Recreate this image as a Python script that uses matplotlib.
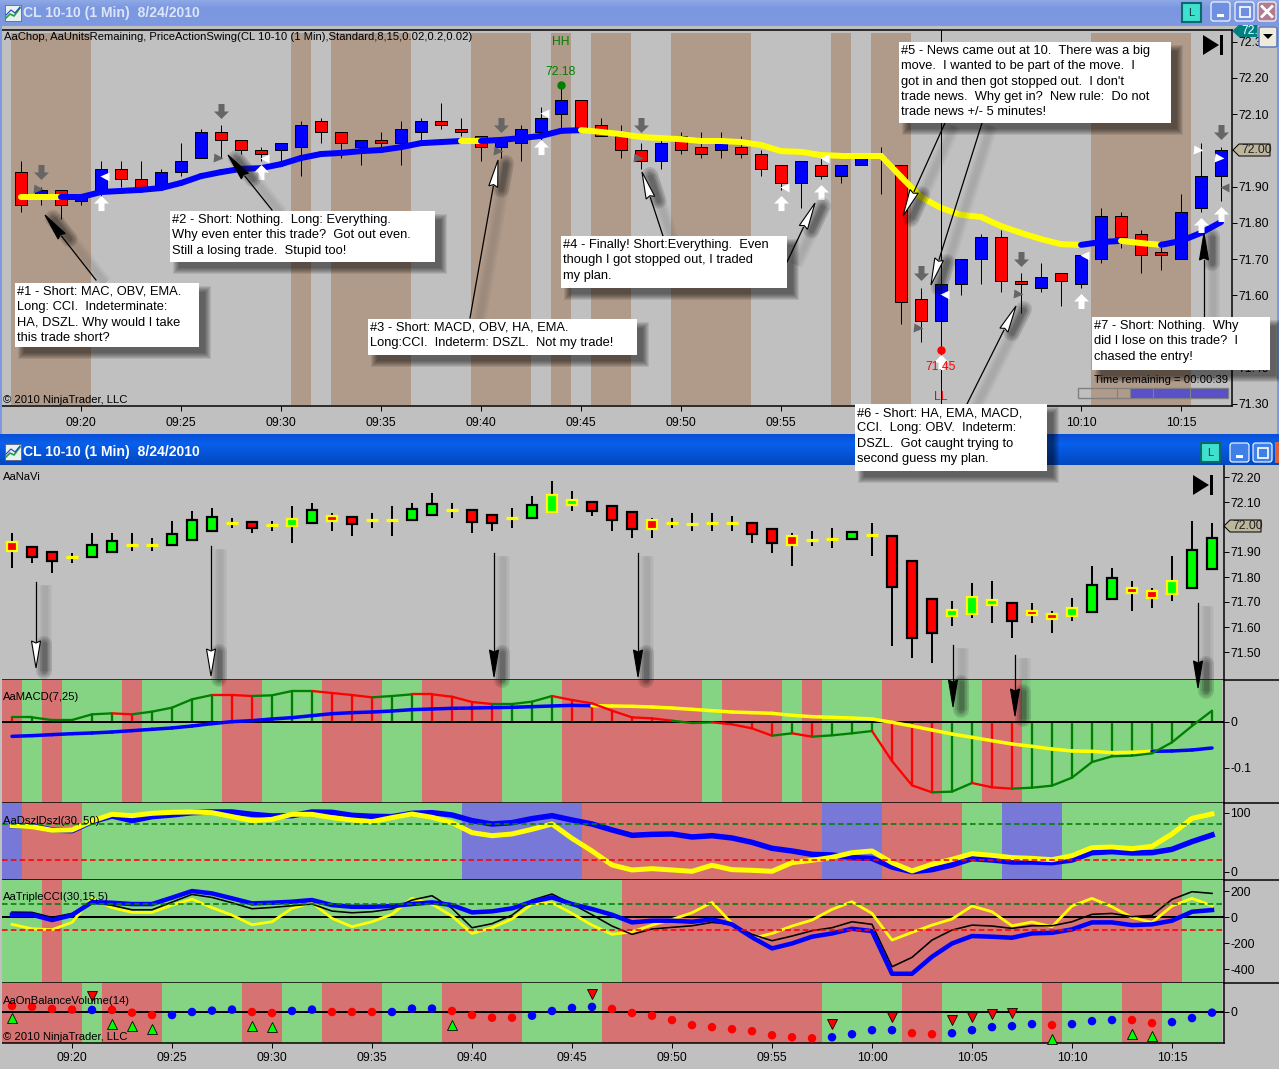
import numpy as np
import matplotlib
matplotlib.use("Agg")
import matplotlib.pyplot as plt
from matplotlib.patches import Rectangle, Polygon, FancyBboxPatch
from matplotlib.path import Path

plt.rcParams['font.family'] = ['Liberation Sans', 'DejaVu Sans']
W, H = 1279, 1069

# ---------------- data (minutes after 09:20) ----------------
minutes = list(range(-3, 58))
tick_minutes = list(range(0, 56, 5))
tick_labels = ['09:20','09:25','09:30','09:35','09:40','09:45','09:50','09:55','10:00','10:05','10:10','10:15']
top_tick_labels = ['09:20','09:25','09:30','09:35','09:40','09:45','09:50','09:55','','','10:10','10:15']

top_open = [71.94,71.87,71.89,71.86,71.89,71.95,71.92,71.90,71.94,71.98,72.05,72.03,72.00,72.00,72.01,72.08,72.05,72.01,72.03,72.02,72.05,72.08,72.06,72.04,72.01,72.02,72.05,72.10,72.14,72.07,72.04,72.00,71.97,72.04,72.01,72.00,72.01,71.99,71.96,71.91,71.96,71.93,71.96,71.98,71.96,71.59,71.53,71.63,71.70,71.76,71.64,71.62,71.66,71.63,71.70,71.82,71.77,71.72,71.70,71.84,71.93]
top_close = [71.85,71.89,71.85,71.87,71.95,71.92,71.90,71.94,71.97,72.05,72.03,72.00,71.99,72.02,72.07,72.05,72.02,72.03,72.02,72.06,72.08,72.07,72.05,72.01,72.03,72.06,72.09,72.14,72.06,72.04,72.00,71.97,72.02,72.00,71.99,72.03,71.99,71.95,71.91,71.97,71.93,71.96,71.98,71.98,71.58,71.53,71.63,71.70,71.76,71.64,71.63,71.65,71.64,71.71,71.82,71.76,71.71,71.71,71.83,71.93,72.00]
top_high = [71.97,71.90,71.89,71.88,71.97,71.97,71.97,71.95,72.02,72.06,72.07,72.03,72.01,72.02,72.08,72.09,72.05,72.03,72.05,72.08,72.09,72.13,72.09,72.04,72.03,72.07,72.12,72.18,72.14,72.09,72.07,72.02,72.03,72.05,72.05,72.05,72.04,72.00,71.96,71.97,71.98,71.96,71.98,72.01,71.96,71.62,71.63,71.70,71.77,71.78,71.66,71.69,71.66,71.71,71.84,71.83,71.78,71.75,71.88,72.02,72.01]
top_low = [71.83,71.85,71.81,71.85,71.87,71.90,71.90,71.90,71.93,71.98,71.98,71.99,71.97,71.97,71.93,72.02,71.98,71.96,72.00,71.96,72.02,72.06,72.04,71.97,71.98,71.97,72.03,72.06,72.06,72.04,71.98,71.95,71.95,71.99,71.98,71.98,71.98,71.93,71.89,71.84,71.92,71.91,71.96,71.88,71.52,71.47,71.45,71.60,71.63,71.61,71.55,71.61,71.57,71.62,71.69,71.73,71.66,71.67,71.70,71.83,71.86]
swing_ma = [71.871,71.871,71.871,71.871,71.885,71.888,71.891,71.896,71.910,71.929,71.940,71.949,71.951,71.962,71.979,71.990,71.993,71.998,72.001,72.009,72.020,72.023,72.026,72.026,72.029,72.034,72.040,72.054,72.056,72.051,72.045,72.037,72.034,72.031,72.026,72.026,72.023,72.015,71.998,71.996,71.987,71.985,71.985,71.985,71.927,71.871,71.841,71.822,71.816,71.791,71.772,71.755,71.741,71.739,71.747,71.750,71.744,71.739,71.750,71.772,71.802]
swing_ma_color = ['Y']*3 + ['B']*20 + ['Y'] + ['B']*5 + ['Y']*25 + ['B']*2 + ['Y']*2 + ['B']*3
chop_minutes = [-3,-2,-1,0,11,13,14,15,16,20,21,22,24,26,27,30,31,32,33,38,40,41,51,52,53,54,55]

down_t = [-2,7,21,28,42,47,57];  down_p = [71.94,72.11,72.07,72.07,71.66,71.70,72.05]
up_t = [1,9,23,35,37,43,50,56,57];  up_p = [71.855,71.94,72.01,71.855,71.885,71.415,71.585,71.795,71.825]
gtri_t = [-2,7,21,28,42,47];  gtri_p = [71.893,71.98,71.998,71.98,71.51,71.603]
wtri_t = [1,9,23,35,37,43,50];  wtri_p = [71.93,71.98,72.103,71.90,71.98,71.603,71.711]

nav_top = [71.939,71.921,71.901,71.880,71.929,71.943,71.927,71.927,71.971,72.027,72.039,72.015,72.019,72.007,72.031,72.067,72.043,72.039,72.027,72.028,72.071,72.091,72.067,72.067,72.047,72.037,72.087,72.127,72.108,72.099,72.083,72.059,72.027,72.015,72.012,72.016,72.015,72.017,71.993,71.965,71.949,71.951,71.979,71.967,71.965,71.865,71.713,71.667,71.721,71.707,71.697,71.663,71.653,71.675,71.769,71.795,71.755,71.745,71.785,71.909,71.957]
nav_bot = [71.904,71.879,71.864,71.880,71.879,71.901,71.927,71.927,71.927,71.947,71.983,72.015,71.995,72.007,72.005,72.015,72.025,72.011,72.027,72.028,72.027,72.047,72.067,72.019,72.015,72.037,72.035,72.059,72.089,72.063,72.027,71.991,71.993,72.015,72.012,72.016,72.015,71.971,71.935,71.927,71.949,71.951,71.951,71.967,71.760,71.555,71.575,71.643,71.651,71.687,71.623,71.647,71.633,71.643,71.659,71.711,71.735,71.715,71.731,71.755,71.831]
nav_high = [71.975,71.921,71.901,71.895,71.975,71.975,71.975,71.955,72.024,72.064,72.076,72.035,72.019,72.024,72.084,72.095,72.055,72.039,72.055,72.084,72.095,72.135,72.095,72.067,72.047,72.075,72.123,72.183,72.144,72.099,72.083,72.059,72.035,72.035,72.055,72.055,72.044,72.017,71.993,71.975,71.984,71.996,71.984,72.016,71.965,71.865,71.713,71.704,71.776,71.784,71.697,71.697,71.664,71.717,71.844,71.836,71.784,71.756,71.884,72.024,72.015]
nav_low = [71.837,71.857,71.817,71.857,71.879,71.901,71.905,71.905,71.927,71.947,71.983,71.997,71.977,71.985,71.937,72.015,71.985,71.965,71.997,71.965,72.027,72.047,72.037,71.977,71.985,71.997,72.035,72.059,72.065,72.044,71.985,71.957,71.957,71.997,71.985,71.985,71.985,71.937,71.897,71.845,71.924,71.917,71.951,71.885,71.525,71.476,71.457,71.605,71.637,71.617,71.557,71.617,71.577,71.625,71.659,71.711,71.664,71.677,71.705,71.755,71.831]
nav_style = ['YR','KR','KR','Y','KG','KG','Y','Y','KG','KG','KG','Y','KR','Y','YG','KG','YR','KR','Y','Y','KG','KG','Y','KR','KR','Y','KG','YG','YG','KR','KR','KR','YR','Y','Y','Y','Y','KR','KR','YR','Y','Y','KG','Y','KR','KR','KR','YG','YG','YG','KR','YR','YR','YG','KG','KG','YR','YR','YG','KG','KG']

macd_bg = ['R','G','R','G','G','G','R','G','G','G','G','R','R','G','G','G','R','R','R','G','G','R','R','R','R','G','G','G'] + ['R']*7 + ['G','R','R','R','G','R','G','G','G','R','R','R','G','G','R','R'] + ['G']*10
macd_diff = [.0101,.0101,.0043,.0043,.0167,.0188,.0167,.0225,.0312,.0493,.0587,.0587,.0565,.058,.0674,.0674,.063,.0587,.0536,.0565,.0601,.0601,.055,.0435,.0391,.0391,.0442,.0565,.0478,.0406,.0246,.0101,.008,.0029,-.0022,-.0007,-.0051,-.0138,-.0297,-.0246,-.0319,-.029,-.0246,-.0196,-.0848,-.1377,-.1529,-.1514,-.1326,-.142,-.1449,-.1428,-.1384,-.121,-.087,-.0746,-.0732,-.0681,-.0442,-.0087,.0246]
macd_col = ['R','G','G','G','G','G','R','G','G','G','G','R','R','G','G','G','R','R','R','G','G','R','R','R','R','G','G','G','R','R','R','R','R','R','G','G','R','R','R','G','R','G','G','G','R','R','R','G','G','R','R','G','G','G','G','G','G','G','G','G','G']
macd_sig = [-.0312,-.0297,-.0275,-.0254,-.0239,-.0217,-.0188,-.0159,-.013,-.0087,-.0036,.0007,.0029,.0065,.0094,.0138,.0181,.0203,.0217,.0239,.0268,.0283,.0297,.0304,.0312,.0319,.0333,.0348,.0362,.0355,.0348,.0341,.0326,.0304,.0275,.0246,.0217,.0203,.0188,.0145,.0116,.0101,.0087,.0065,-.0007,-.0087,-.0174,-.0261,-.0333,-.0406,-.0478,-.0529,-.0587,-.063,-.0638,-.0667,-.0659,-.0638,-.063,-.0609,-.0565]
macd_sig_col = ['B']*30 + ['Y']*28 + ['B']*3

dsz_bg = ['L'] + ['R']*3 + ['G']*19 + ['L']*6 + ['R']*12 + ['L']*3 + ['R']*4 + ['G']*2 + ['L']*3 + ['G']*8
dsz_blue = [77.7,77.1,70.4,69.2,84.5,94.1,86.2,93,95.8,99.7,100.9,100.9,96.9,94.1,94.6,100.9,100.3,95.2,93.5,93,98.6,99.7,95.8,86.2,80.5,82.8,89.6,94.6,87.3,80.5,70.4,61.3,63,63.6,58.5,60.7,56.8,49.4,39.3,34.8,29.1,28,23.5,22.3,7.6,-.3,3.1,11,21.8,19.5,16.1,16.1,15,19.5,31.9,33.6,31.4,31.9,37.6,50.6,61.9]
dsz_yellow = [77.7,76,69.8,70.4,85.6,96.9,94.6,98.6,100.3,100.9,99.7,93,86.2,88.4,96.9,96.9,91.3,87.3,84.5,91.3,97.5,91.8,82.8,65.8,60.7,63.6,71.5,80.5,56.2,34.8,11,2.6,4.8,2.6,.3,10.5,3.1,2,.3,15,18.9,24,31.9,34.8,15,.9,12.2,20.6,30.2,27.4,23.5,22.3,20,26.8,40.4,41.5,38.7,42.7,63.6,90.1,97.5]

cci_bg = ['G','G','R'] + ['G']*28 + ['R']*28 + ['G']*2
cci_blue = [18,18,-23,15,115,110,100,100,149,200,182,144,105,110,118,131,92,79,79,85,100,113,92,36,44,67,118,151,100,62,18,-41,-28,-28,-36,-18,-56,-156,-241,-203,-151,-126,-90,-108,-436,-436,-305,-203,-146,-151,-159,-126,-121,-95,-41,-41,-62,-56,-28,41,54]
cci_black = [38,36,-3,28,110,90,56,56,115,174,151,110,64,74,87,100,46,33,41,62,131,164,67,-82,-51,15,131,177,100,18,-69,-133,-92,-79,-67,-41,-56,-133,-182,-146,-105,-82,-36,-56,-382,-310,-177,-100,-62,-69,-87,-67,-67,-36,21,28,3,13,136,195,182]
cci_yellow = [-56,-90,-97,-41,144,72,36,36,92,138,72,15,-59,-36,67,110,-10,-74,-36,21,144,100,8,-126,-82,-15,100,110,28,-62,-133,-113,-62,-18,33,113,-49,-164,-126,-69,-23,59,118,28,-177,-118,-62,-15,85,41,-67,-38,-74,85,144,79,-3,-41,85,144,87]

obv_bg = ['R']*4 + ['G'] + ['R']*3 + ['G']*4 + ['R']*2 + ['G']*2 + ['R']*3 + ['G']*3 + ['R']*4 + ['G']*4 + ['R']*11 + ['G']*4 + ['R']*2 + ['G']*5 + ['R'] + ['G']*3 + ['R']*2 + ['G']*3
obv = [18,15,9,7,6,6,-2,-9,-9,0,4,7,0,-3,3,7,0,0,0,0,10,10,3,-9,-17,-17,-11,3,12,15,9,-3,-11,-24,-39,-45,-51,-57,-69,-75,-78,-75,-66,-54,-54,-63,-66,-63,-54,-45,-42,-36,-39,-36,-27,-24,-24,-33,-30,-18,-2]
obv_col = list('RRRRBRRRBBBBRRBBRRRBBBRRRRBBBBRR') + ['R']*9 + ['B']*4 + ['R']*2 + ['B']*5 + ['R'] + ['B']*3 + ['R']*2 + ['B']*3
obv_up_t = [-3,2,3,4,9,10,19,49,53,54];  obv_up_v = [-19,-35,-41,-49,-41,-44,-38,-81,-65,-71]
obv_dn_t = [1,26,38,41,44,45,46,47];  obv_dn_v = [46,54,-36,-15,-24,-15,-6,-3]

# ---------------- colours & helpers ----------------
GRAY = '#C0C0C0'; BROWN = '#B09A8A'
BGC = {'G': '#84D484', 'R': '#D67272', 'L': '#7878D8'}
LINEC = {'Y': '#FFFF00', 'B': '#0000FF', 'G': '#008000', 'R': '#FF0000'}
px = 0.72  # points per pixel at dpi 100
FS = 8.7
fig = plt.figure(figsize=(W/100, H/100), dpi=100, facecolor=GRAY)

def make_ax(l, t, r, b):
    ax = fig.add_axes([l/W, 1-b/H, (r-l)/W, (b-t)/H], facecolor=GRAY)
    for s in ('top', 'left'):
        ax.spines[s].set_visible(False)
    for s in ax.spines.values():
        s.set_linewidth(1.5*px)
    ax.yaxis.tick_right()
    ax.tick_params(axis='y', length=5*px, width=1*px, pad=1, labelsize=FS)
    ax.tick_params(axis='x', length=5*px, width=1*px, pad=4, labelsize=FS)
    return ax

def bands(ax, cols, ts):
    for t, c in zip(ts, cols):
        ax.axvspan(t-.5, t+.5, facecolor=BGC[c], lw=0, antialiased=False, zorder=0)

def colored_line(ax, xs, ys, cols, lw, z=3):
    for i in range(1, len(xs)):
        ax.plot(xs[i-1:i+1], ys[i-1:i+1], color=LINEC[cols[i]], lw=lw, zorder=z, solid_capstyle='round')

m = np.array(minutes)
# ---------------- top chart ----------------
a0 = 81
ax1 = make_ax(2, 30, 1232, 406)
ax1.set_xlim((2-a0)/20, (1232-a0)/20)
ax1.set_ylim(72.2-(406-78)/362, 72.2+(78-30)/362)
ax1.spines['top'].set_visible(True)
for t in chop_minutes:
    ax1.axvspan(t-.5, t+.5, ymin=0.003, ymax=0.992, facecolor=BROWN, lw=0, antialiased=False, zorder=0)
to, tc, th, tl = map(np.array, (top_open, top_close, top_high, top_low))
ax1.vlines(m, tl, th, color='k', lw=1*px, zorder=2)
tcols = ['#0000FF' if c > o else '#FF0000' for o, c in zip(to, tc)]
ax1.bar(m, np.abs(tc-to), bottom=np.minimum(to, tc), width=.58, color=tcols, edgecolor='k', lw=1*px, zorder=3)
colored_line(ax1, minutes, swing_ma, swing_ma_color, 6*px, 4)
ax1.axvline(43, color='k', lw=1*px, zorder=5)

arrow_up = Path([(-.2,-.5),(.2,-.5),(.2,0),(.5,0),(0,.5),(-.5,0),(-.2,0),(-.2,-.5)], closed=True)
arrow_dn = Path([(-.2,.5),(.2,.5),(.2,0),(.5,0),(0,-.5),(-.5,0),(-.2,0),(-.2,.5)], closed=True)
ax1.plot(down_t, down_p, ls='', marker=arrow_dn, ms=15*px, mfc='#666666', mec='none', zorder=6)
ax1.plot(up_t, up_p, ls='', marker=arrow_up, ms=15*px, mfc='white', mec='none', zorder=6)
ax1.plot(np.array(gtri_t)-.15, gtri_p, ls='', marker='>', ms=9*px, mfc='#666666', mec='none', zorder=6)
ax1.plot(np.array(wtri_t)+.17, wtri_p, ls='', marker='<', ms=9*px, mfc='white', mec='none', zorder=6)
ax1.plot([56-.15, 57-.1], [72.00, 71.98], ls='', marker='>', ms=9*px, mfc='white', mec='none', zorder=6)
ax1.plot([57.15], [71.90], ls='', marker='<', ms=9*px, mfc='#666666', mec='none', zorder=6)
ax1.plot([24], [72.18], 'o', ms=7*px, color='#008000', zorder=6)
ax1.plot([43], [71.45], 'o', ms=7*px, color='#FF0000', zorder=6)
ax1.annotate('72.18', (24, 72.18), xytext=(0, 13*px), textcoords='offset points', ha='center', va='center', color='#008000', fontsize=FS)
ax1.annotate('HH', (24, 72.18), xytext=(0, 43*px), textcoords='offset points', ha='center', va='center', color='#008000', fontsize=FS)
ax1.annotate('71.45', (43, 71.45), xytext=(0, -17*px), textcoords='offset points', ha='center', va='center', color='#FF0000', fontsize=FS, zorder=7)
ax1.annotate('LL', (43, 71.45), xytext=(0, -47*px), textcoords='offset points', ha='center', va='center', color='#FF0000', fontsize=FS, zorder=7)
ax1.set_xticks(tick_minutes, top_tick_labels)
yt = [72.30, 72.20, 72.10, 72.00, 71.90, 71.80, 71.70, 71.60, 71.50, 71.40, 71.30]
ax1.set_yticks(yt, [f'{v:.2f}' for v in yt])

# ---------------- bottom chart ----------------
b0 = 72
xl = ((2-b0)/20, (1224-b0)/20)
ax2 = make_ax(2, 465, 1224, 680)
ax2.set_xlim(*xl)
ax2.set_ylim(72.2-203/250, 72.2+12/250)
nt, nb, nh, nl = map(np.array, (nav_top, nav_bot, nav_high, nav_low))
ax2.vlines(m, nl, nh, color='k', lw=2*px, zorder=2)
for t, a, b, s in zip(minutes, nt, nb, nav_style):
    if s == 'Y':
        ax2.plot([t-.32, t+.32], [a, a], color='#FFFF00', lw=3.2*px, solid_capstyle='butt', zorder=3)
    else:
        ax2.bar(t, a-b, bottom=b, width=.52, color='#00FF00' if s[1] == 'G' else '#FF0000',
                edgecolor='k' if s[0] == 'K' else '#FFFF00', lw=2.2*px, zorder=3)
yt = [72.2, 72.1, 72.0, 71.9, 71.8, 71.7, 71.6, 71.5]
ax2.set_yticks(yt, [f'{v:.2f}' for v in yt])
ax2.set_xticks([])

# MACD
ax3 = make_ax(2, 680, 1224, 803)
ax3.set_xlim(*xl); ax3.set_ylim(-(803-722)/460, 42/460)
bands(ax3, macd_bg, minutes)
ax3.vlines(m, 0, macd_diff, colors=[LINEC[c] for c in macd_col], lw=2.3*px, zorder=2)
colored_line(ax3, minutes, macd_diff, macd_col, 2.3*px, 3)
ax3.axhline(0, color='k', lw=2*px, zorder=2.5)
colored_line(ax3, minutes, macd_sig, macd_sig_col, 3.5*px, 2.8)
ax3.set_yticks([0, -.1], ['0', '-0.1']); ax3.set_xticks([])

# DSZ
ax4 = make_ax(2, 803, 1224, 880)
ax4.set_xlim(*xl); ax4.set_ylim((871.5-880)/.59, (871.5-803)/.59)
bands(ax4, dsz_bg, minutes)
ax4.axhline(80, color='#008000', lw=1.6*px, ls=(0, (3.5, 2)), zorder=5)
ax4.axhline(20, color='#FF0000', lw=1.6*px, ls=(0, (3.5, 2)), zorder=5)
ax4.plot(minutes, dsz_blue, color='#0000FF', lw=5.5*px, zorder=3)
ax4.plot(minutes, dsz_yellow, color='#FFFF00', lw=5*px, zorder=4)
ax4.set_yticks([100, 0]); ax4.set_xticks([])

# CCI
ax5 = make_ax(2, 880, 1224, 983)
ax5.set_xlim(*xl); ax5.set_ylim(-507, 285)
bands(ax5, cci_bg, minutes)
ax5.axhline(0, color='k', lw=2*px, zorder=1)
ax5.axhline(100, color='#008000', lw=1.6*px, ls=(0, (3.5, 2)), zorder=5)
ax5.axhline(-100, color='#FF0000', lw=1.6*px, ls=(0, (3.5, 2)), zorder=5)
ax5.plot(minutes, cci_yellow, color='#FFFF00', lw=2.8*px, zorder=2)
ax5.plot(minutes, cci_black, color='k', lw=1.6*px, zorder=3)
ax5.plot(minutes, cci_blue, color='#0000FF', lw=4.5*px, zorder=4)
ax5.set_yticks([200, 0, -200, -400], ['200', '0', '-200', '-400']); ax5.set_xticks([])

# OBV
ax6 = make_ax(2, 983, 1224, 1043)
ax6.set_xlim(*xl); ax6.set_ylim(-92, 86)
bands(ax6, obv_bg, minutes)
ax6.axhline(0, color='k', lw=2*px, zorder=1)
ax6.scatter(minutes, obv, c=[LINEC[c] for c in obv_col], s=(8.5*px)**2, marker='o', lw=0, zorder=3)
ax6.plot(obv_up_t, obv_up_v, ls='', marker='^', ms=10*px, mfc='#00FF00', mec='k', mew=.8*px, zorder=4, clip_on=False)
ax6.plot(obv_dn_t, obv_dn_v, ls='', marker='v', ms=10*px, mfc='#FF0000', mec='k', mew=.8*px, zorder=4)
ax6.set_yticks([0]); ax6.set_xticks(tick_minutes, tick_labels)
ax6.tick_params(axis='x', pad=3)

# ---------------- overlay in screen pixels: window chrome, notes ----------------
ov = fig.add_axes([0, 0, 1, 1], zorder=20)
ov.patch.set_alpha(0); ov.axis('off')
def title_bar(y0, y1, c0, c1, c2):
    n = y1-y0
    g = np.zeros((n, 1, 3))
    c0, c1, c2 = [np.array(matplotlib.colors.to_rgb(c)) for c in (c0, c1, c2)]
    for i in range(n):
        f = i/(n-1)
        g[i, 0] = c0+(c1-c0)*f/.3 if f < .3 else c1+(c2-c1)*(f-.3)/.7
    ov.imshow(g, extent=(0, W, y1, y0), aspect='auto', zorder=0, interpolation='bilinear')
title_bar(0, 26, '#8FA9E6', '#7B97DF', '#7C99E2')
title_bar(434, 465, '#0A4FD8', '#0860EC', '#0348C0')
ov.add_patch(Rectangle((0, 26), 2, 408, fc='#7C99E2', lw=0, zorder=1))
ov.add_patch(Rectangle((1277, 26), 2, 408, fc='#7C99E2', lw=0, zorder=1))
ov.add_patch(Rectangle((0, 465), 2, 600, fc=GRAY, lw=0, zorder=1))
ov.set_xlim(0, W); ov.set_ylim(H, 0)

for y, col in ((13, '#DDE6F8'), (452, 'white')):
    ov.add_patch(Rectangle((5, y-8), 16, 16, fc='#E8F0F0', ec='#556', lw=.5, zorder=2))
    ov.plot([6, 10, 14, 20], [y+5, y+1, y+3, y-5], color='#20A040', lw=1.2, zorder=3)
    ov.plot([6, 11, 15, 20], [y+2, y-3, y, y-6], color='#2040C0', lw=.8, zorder=3)
    ov.text(23, y, 'CL 10-10 (1 Min)  8/24/2010', color=col, fontsize=10.1, fontweight='bold', va='center', zorder=3)

def win_btn(x0, y0, w, h, fc, kind):
    ov.add_patch(FancyBboxPatch((x0+1, y0+1), w-2, h-2, boxstyle='round,pad=0,rounding_size=2.5', fc=fc, ec='white', lw=.8, zorder=3))
    c = (x0+w/2, y0+h/2)
    if kind == 'min':
        ov.add_patch(Rectangle((c[0]-4, c[1]+2), 7, 3, fc='white', lw=0, zorder=4))
    elif kind == 'max':
        ov.add_patch(Rectangle((c[0]-5, c[1]-5), 10, 10, fc='none', ec='white', lw=1.2, zorder=4))
    elif kind == 'x':
        ov.plot([c[0]-5, c[0]+5], [c[1]-5, c[1]+5], color='white', lw=2, zorder=4)
        ov.plot([c[0]-5, c[0]+5], [c[1]+5, c[1]-5], color='white', lw=2, zorder=4)
def l_btn(x0, y0):
    ov.add_patch(Rectangle((x0, y0), 19, 19, fc='#40E0D0', ec='#0A6A6A', lw=1.5, zorder=3))
    ov.text(x0+9.5, y0+10, 'L', ha='center', va='center', fontsize=8, color='#0A3A3A', zorder=4)
l_btn(1182, 3); l_btn(1201, 443)
win_btn(1210, 1, 21, 21, '#6F8FE0', 'min'); win_btn(1234, 1, 21, 21, '#6F8FE0', 'max'); win_btn(1257, 1, 20, 21, '#B07C90', 'x')
win_btn(1229, 442, 21, 21, '#3F7FE8', 'min'); win_btn(1252, 442, 21, 21, '#3F7FE8', 'max')
ov.add_patch(Rectangle((1275, 442), 4, 21, fc='#E0603A', lw=0, zorder=3))

# separators run to the window edge
for y in (680, 803, 880, 983):
    ov.plot([1224, W], [y, y], color='k', lw=1.5*px, zorder=2)

# indicator captions
caps = [(4, 37, 'AaChop, AaUnitsRemaining, PriceActionSwing(CL 10-10 (1 Min),Standard,8,15,0.02,0.2,0.02)'),
        (3, 400, '© 2010 NinjaTrader, LLC'), (3, 477, 'AaNaVi'), (3, 697, 'AaMACD(7,25)'),
        (3, 821, 'AaDszlDszl(30, 50)'), (3, 897, 'AaTripleCCI(30,15,5)'), (3, 1001, 'AaOnBalanceVolume(14)'),
        (3, 1037, '© 2010 NinjaTrader, LLC'), (1094, 380, 'Time remaining = 00:00:39')]
for x, y, s in caps:
    ov.text(x, y, s, fontsize=8.1, va='center', color='k', zorder=3)

# end-of-data glyphs
for x, y in ((1203, 45), (1193, 485)):
    ov.add_patch(Polygon([(x, y-10), (x, y+10), (x+16, y)], fc='k', lw=0, zorder=3))
    ov.add_patch(Rectangle((x+17, y-10), 3, 20, fc='k', lw=0, zorder=3))

# price tags
def tag(x, y, w, h, s, fc, tc):
    ov.add_patch(Polygon([(x, y), (x+6, y-h/2), (x+w, y-h/2), (x+w, y+h/2), (x+6, y+h/2)], fc=fc, ec='k' if fc != '#008080' else '#008080', lw=1*px, zorder=3))
    ov.text(x+8, y, s, fontsize=FS, va='center', color=tc, zorder=4)
tag(1233, 150, 37, 12, '72.00', '#BDB59C', '#202020')
tag(1224, 526, 37, 12, '72.00', '#BDB59C', '#202020')
tag(1233, 31, 24, 11, '72.', '#008080', 'white')
ov.add_patch(FancyBboxPatch((1259, 27), 18, 20, boxstyle='round,pad=0,rounding_size=2', fc='#EFEBDC', ec='#5070C0', lw=1, zorder=5))
ov.add_patch(Polygon([(1263, 34), (1273, 34), (1268, 39)], fc='k', lw=0, zorder=6))

# remaining-time bar
ov.add_patch(Rectangle((1078, 388), 150, 10, fc='none', ec='#808080', lw=1, zorder=3))
ov.add_patch(Rectangle((1130, 389), 98, 9, fc='#5A50C8', lw=0, zorder=3))
for x in (1117, 1130, 1153, 1190):
    ov.plot([x, x], [388, 398], color='#808080', lw=.8, zorder=4)

def shadow_box(x0, y0, x1, y1):
    for k in range(7):
        ov.add_patch(Rectangle((x0+9-k, y0+9-k), x1-x0+2*k-3, y1-y0+2*k-3, fc='k', alpha=.09, lw=0, zorder=8))
    ov.add_patch(Rectangle((x0, y0), x1-x0, y1-y0, fc='white', lw=0, zorder=9))

def note_arrow(x0, y0, x1, y1, fc):
    d = np.array([x0-x1, y0-y1], float); L = np.hypot(*d); d /= L
    n = np.array([-d[1], d[0]])
    tip = np.array([x1, y1], float)
    bs = tip+d*27
    for wd in (14, 11, 8, 5):
        ov.plot([x0+9, x1+9], [y0+3, y1+3], color='#404040', alpha=.045, lw=wd*px, zorder=5, solid_capstyle='butt')
    for wd in (16, 12, 8, 5):
        ov.plot([bs[0]+8, tip[0]+8], [bs[1]+3, tip[1]+3], color='#101010', alpha=.13, lw=wd*px, zorder=5, solid_capstyle='round')
    ov.plot([x0, bs[0]], [y0, bs[1]], color='k', lw=.9, zorder=6)
    ov.add_patch(Polygon([tip, bs+n*4.5, tip+d*25, bs-n*4.5], fc=fc, ec='k', lw=.8, zorder=7))

arrows = [(96, 280, 45, 215, 'k'), (272, 210, 228, 155, 'k'), (470, 318, 498, 160, 'white'),
          (663, 236, 642, 172, 'white'), (787, 262, 815, 203, 'white'), (945, 123, 903, 216, 'white'),
          (982, 123, 931, 285, 'white'), (967, 404, 1016, 306, 'white'), (1204, 317, 1204, 233, 'k'),
          (36, 582, 36, 668, 'white'), (211, 546, 211, 676, 'white'), (494, 553, 494, 677, 'k'),
          (638, 553, 638, 677, 'k'), (953, 645, 953, 707, 'k'), (1015, 655, 1015, 716, 'k'), (1198, 603, 1198, 688, 'k')]
for a in arrows:
    note_arrow(*a)

notes = [(15, 283, 199, 347, ['#1 - Short: MAC, OBV, EMA.', 'Long: CCI.  Indeterminate:', 'HA, DSZL. Why would I take', 'this trade short?']),
         (170, 211, 435, 262, ['#2 - Short: Nothing.  Long: Everything.', 'Why even enter this trade?  Got out even.', 'Still a losing trade.  Stupid too!']),
         (368, 319, 637, 355, ['#3 - Short: MACD, OBV, HA, EMA.', 'Long:CCI.  Indeterm: DSZL.  Not my trade!']),
         (561, 236, 787, 288, ['#4 - Finally! Short:Everything.  Even', 'though I got stopped out, I traded', 'my plan.']),
         (899, 42, 1171, 123, ['#5 - News came out at 10.  There was a big', 'move.  I wanted to be part of the move.  I', "got in and then got stopped out.  I don't", 'trade news.  Why get in?  New rule:  Do not', 'trade news +/- 5 minutes!']),
         (855, 404, 1047, 471, ['#6 - Short: HA, EMA, MACD,', 'CCI.  Long: OBV.  Indeterm:', 'DSZL.  Got caught trying to', 'second guess my plan.']),
         (1092, 317, 1270, 370, ['#7 - Short: Nothing.  Why', 'did I lose on this trade?  I', 'chased the entry!'])]
for x0, y0, x1, y1, lines in notes:
    shadow_box(x0, y0, x1, y1)
    for i, s in enumerate(lines):
        ov.text(x0+2, y0+9+i*15.3, s, fontsize=9.25, va='center', color='k', zorder=10)

fig.savefig('out.png', dpi=100, facecolor=GRAY)
